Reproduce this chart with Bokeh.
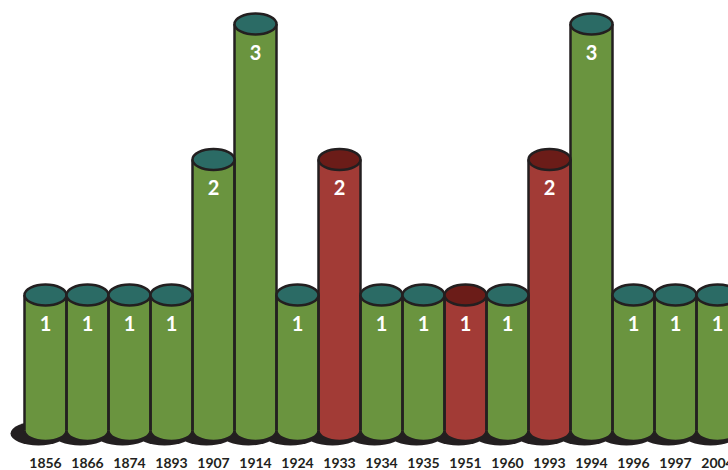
from bokeh.plotting import figure
from bokeh.models import ColumnDataSource, Range1d
from bokeh.transform import dodge
from bokeh.core.properties import value
from bokeh.embed import file_html
from bokeh.resources import INLINE

years = ["1856", "1866", "1874", "1893", "1907", "1914", "1924", "1933", "1934",
         "1935", "1951", "1960", "1993", "1994", "1996", "1997", "2004"]
counts = [1, 1, 1, 1, 2, 3, 1, 2, 1, 1, 1, 1, 2, 3, 1, 1, 1]
red_years = ["1933", "1951", "1993"]

GREEN, TEAL = "#6a943f", "#2b6b65"
RED, DARKRED = "#a23b36", "#6b1c18"
INK = "#231f20"

PX_X = 42.0      # pixels per category
PX_Y = 135.5     # pixels per unit of value

n = len(years)
xs = list(range(n))
body = [RED if y in red_years else GREEN for y in years]
top = [DARKRED if y in red_years else TEAL for y in years]
labels = [str(c) for c in counts]
label_y = [c - 28 / PX_Y for c in counts]

src = ColumnDataSource(dict(x=xs, v=counts, body=body, top=top, label=labels,
                            ly=label_y, year=years))

p = figure(width=728, height=470,
           x_range=Range1d(-45 / PX_X, (728 - 45) / PX_X),
           y_range=Range1d(-40 / PX_Y, 430 / PX_Y),
           x_axis_type=None, y_axis_type=None,
           output_backend="svg", toolbar_location=None, min_border=0)
p.grid.visible = False
p.outline_line_color = None
p.background_fill_color = "white"
p.border_fill_color = "white"

# shadows
p.ellipse(x=dodge("x", -7 / PX_X), y=-3 / PX_Y, width=56, height=24,
          width_units="screen", height_units="screen", source=src,
          fill_color=INK, line_color=None)
# bottom ellipses
p.ellipse(x="x", y=0, width=1, height=21, height_units="screen", source=src,
          fill_color="body", line_color=INK, line_width=2.5)
# bodies
p.vbar(x="x", bottom=0, top="v", width=1, source=src,
       fill_color="body", line_color=None)
# sides
for off in (-0.5, 0.5):
    p.segment(x0=dodge("x", off), y0=0, x1=dodge("x", off), y1="v", source=src,
              line_color=INK, line_width=2.5)
# tops
p.ellipse(x="x", y="v", width=1, height=21, height_units="screen", source=src,
          fill_color="top", line_color=INK, line_width=2.5)

# value labels
p.text(x="x", y="ly", text="label", source=src, text_color="white",
       text_font=value("Lato"), text_font_style="bold", text_font_size="20px",
       text_align="center", text_baseline="middle")
# year labels
p.text(x="x", y=-32 / PX_Y, text="year", source=src, text_color=INK,
       text_font=value("Lato"), text_font_style="bold", text_font_size="14px",
       text_align="center", text_baseline="middle")

open("out.html", "w").write(file_html(p, INLINE))
